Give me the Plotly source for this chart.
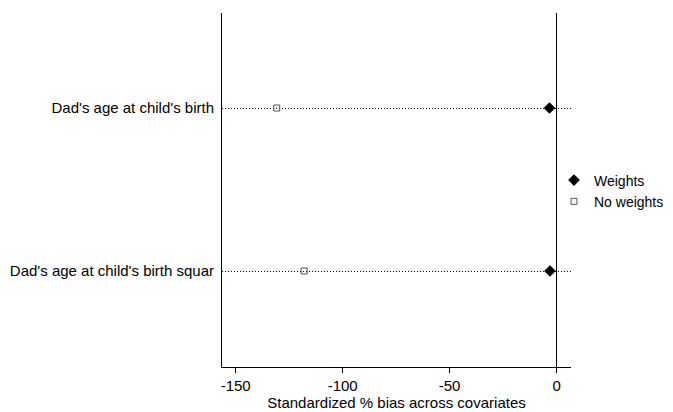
import plotly.graph_objects as go

categories = ["Dad's age at child's birth", "Dad's age at child's birth squar"]
cat_pos = [2, 1]
weights_vals = [-3.3, -3.1]
no_weights_vals = [-130.8, -118.0]
x_ticks = [-150, -100, -50, 0]
x_tick_labels = ["-150", "-100", "-50", "0"]

fig = go.Figure()
fig.add_trace(go.Scatter(
    x=weights_vals, y=cat_pos, mode="markers", name="Weights",
    marker=dict(symbol="diamond", size=9, color="black"),
))
fig.add_trace(go.Scatter(
    x=no_weights_vals, y=cat_pos, mode="markers", name="No weights",
    marker=dict(symbol="square-open", size=6, color="#555555", line=dict(width=1)),
))

# page body has an 8px margin, so the figure is laid out 8px smaller
W, H = 665, 404
font = dict(family="Liberation Sans, Arial, sans-serif", size=15, color="black")
fig.update_layout(
    width=W, height=H,
    margin=dict(l=214, r=102, t=5, b=45, autoexpand=False),
    plot_bgcolor="white", paper_bgcolor="white",
    font=font,
    showlegend=True,
    legend=dict(x=546 / W, y=1 - 183 / H, xref="container", yref="container",
                xanchor="left", yanchor="middle",
                font=dict(size=14), bgcolor="rgba(0,0,0,0)", itemwidth=30),
    xaxis=dict(
        range=[-156.4, 6.75], tickvals=x_ticks, ticktext=x_tick_labels,
        ticks="outside", ticklen=5, tickcolor="black",
        showline=True, linecolor="black", linewidth=1,
        showgrid=False, zeroline=True, zerolinecolor="black", zerolinewidth=1,
        title=dict(text="Standardized % bias across covariates", font=dict(size=15), standoff=2),
        tickfont=dict(size=15), automargin=False,
    ),
    yaxis=dict(
        range=[0.411, 2.583], tickvals=cat_pos, ticktext=categories,
        showline=True, linecolor="black", linewidth=1,
        showgrid=True, gridcolor="black", gridwidth=1, griddash="1px,2px",
        zeroline=False, ticks="", ticklabelstandoff=4,
        tickfont=dict(size=15), automargin=False,
    ),
)
fig.write_html("out.html")
